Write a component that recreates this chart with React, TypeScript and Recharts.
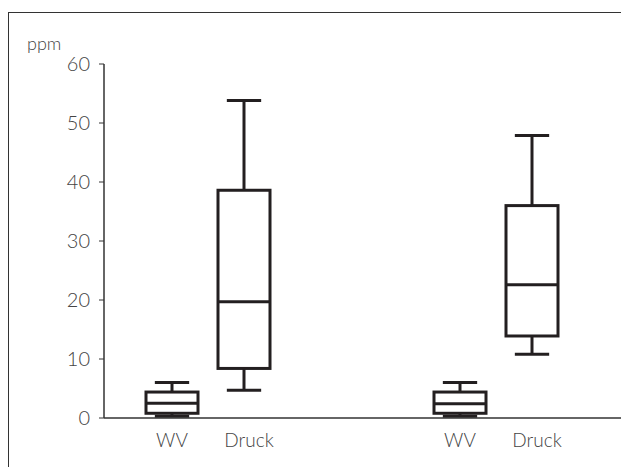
import React from 'react';
import { ComposedChart, Bar, XAxis, YAxis } from 'recharts';

const categories = ['WV-1', 'Druck-1', 'gap-1', 'gap-2', 'WV-2', 'Druck-2'];
const tickLabels = ['WV', 'Druck', '', '', 'WV', 'Druck'];
const minValues = [0.3, 4.7, null, null, 0.3, 10.8];
const q1Values = [0.8, 8.4, null, null, 0.8, 13.9];
const medianValues = [2.5, 19.7, null, null, 2.4, 22.6];
const q3Values = [4.4, 38.6, null, null, 4.4, 36.0];
const maxValues = [6.0, 53.8, null, null, 6.0, 47.9];
const yTicks = [0, 10, 20, 30, 40, 50, 60];

const data = categories.map((c, i) => ({
  id: c,
  label: tickLabels[i],
  min: minValues[i],
  q1: q1Values[i],
  median: medianValues[i],
  q3: q3Values[i],
  max: maxValues[i],
  range: q1Values[i] == null ? null : [q1Values[i], q3Values[i]],
}));

const INK = '#231f20';
const TEXT = '#444';
const FONT = 'Lato, "Open Sans", sans-serif';

const BoxShape = (props: any) => {
  const { x, y, width, height, payload } = props;
  if (!payload || payload.q1 == null) return null;
  const top = Math.min(y, y + height);
  const h = Math.abs(height);
  const ratio = h / (payload.q3 - payload.q1);
  const py = (v: number) => top + (payload.q3 - v) * ratio;
  const cx = x + width / 2;
  const cap = width * 0.66;
  return (
    <g stroke={INK} strokeWidth={3} fill="none">
      <line x1={cx} x2={cx} y1={py(payload.max)} y2={top} />
      <line x1={cx} x2={cx} y1={top + h} y2={py(payload.min)} />
      <line x1={cx - cap / 2} x2={cx + cap / 2} y1={py(payload.max)} y2={py(payload.max)} />
      <line x1={cx - cap / 2} x2={cx + cap / 2} y1={py(payload.min)} y2={py(payload.min)} />
      <rect x={x} y={top} width={width} height={h} fill="#fff" />
      <line x1={x} x2={x + width} y1={py(payload.median)} y2={py(payload.median)} />
    </g>
  );
};

const XTick = (props: any) => {
  const { x, y, index } = props;
  const label = tickLabels[index] ?? '';
  const dx = label === 'Druck' ? 5 : 0;
  return (
    <text x={x + dx} y={y + 21} textAnchor="middle" fill={TEXT} fontSize={19} fontWeight={300} fontFamily={FONT}>
      {label}
    </text>
  );
};

const PpmLabel = (props: any) => {
  const vb = props.viewBox || {};
  return (
    <text x={(vb.x ?? 0) + 19} y={(vb.y ?? 0) - 14} fill={TEXT} fontSize={18} fontWeight={300} fontFamily={FONT}>
      ppm
    </text>
  );
};

export default function App() {
  return (
    <div style={{ width: 621, height: 459, overflow: 'hidden', position: 'relative' }}>
      <div
        style={{
          position: 'absolute',
          left: 0,
          top: 4,
          width: 700,
          height: 600,
          border: '1.5px solid #333',
          boxSizing: 'border-box',
        }}
      />
      <div style={{ position: 'absolute', left: 0, top: 0 }}>
        <ComposedChart
          width={621}
          height={459}
          data={data}
          margin={{ top: 56, right: 7, bottom: 0, left: 0 }}
        >
          <XAxis
            dataKey="id"
            type="category"
            height={49}
            padding={{ left: 32, right: 54 }}
            tickLine={false}
            axisLine={{ stroke: '#333', strokeWidth: 1.5 }}
            tick={<XTick />}
            interval={0}
          />
          <XAxis
            xAxisId="top"
            dataKey="id"
            orientation="top"
            height={0}
            tick={false}
            tickLine={false}
            axisLine={{ stroke: '#333', strokeWidth: 1.5 }}
          />
          <YAxis
            domain={[0, 60]}
            ticks={yTicks}
            width={96}
            tickSize={5}
            tickMargin={9}
            tickLine={{ stroke: '#333', strokeWidth: 1 }}
            axisLine={{ stroke: '#333', strokeWidth: 1.5 }}
            tick={{ fill: TEXT, fontSize: 20, fontWeight: 300, fontFamily: FONT }}
            label={<PpmLabel />}
            allowDataOverflow
          />
          <YAxis
            yAxisId="right"
            orientation="right"
            domain={[0, 60]}
            width={0}
            tick={false}
            tickLine={false}
            axisLine={{ stroke: '#333', strokeWidth: 1.5 }}
          />
          <Bar
            dataKey="range"
            barSize={52}
            shape={<BoxShape />}
            isAnimationActive={false}
          />
        </ComposedChart>
      </div>
    </div>
  );
}
